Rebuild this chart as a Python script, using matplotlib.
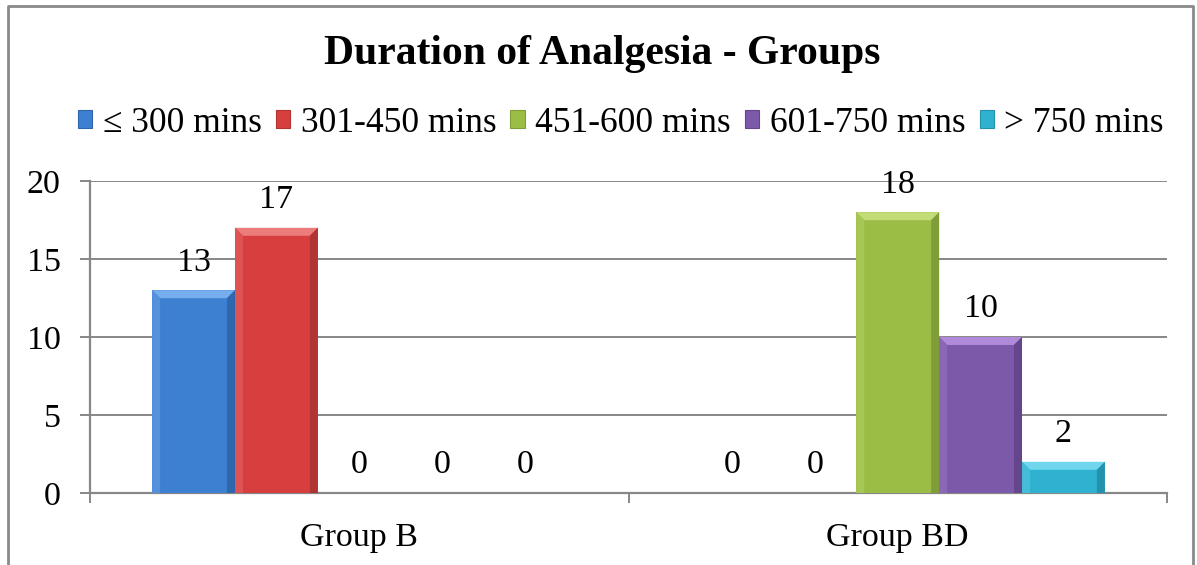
import numpy as np
import matplotlib.pyplot as plt
from matplotlib.patches import Polygon, Patch
from matplotlib.lines import Line2D

plt.rcParams['font.family'] = ['Liberation Serif', 'DejaVu Serif']

# data
groups = ['Group B', 'Group BD']
series = ['\u2264 300 mins', '301-450 mins', '451-600 mins', '601-750 mins', '> 750 mins']
counts = [[13, 0],
          [17, 0],
          [0, 18],
          [0, 10],
          [0, 2]]
colors = ['#3d7fd0', '#d73f3f', '#9bbd45', '#7d5aa9', '#2fb2d0']
tops = ['#76adec', '#ec7b7b', '#c2dc78', '#b08ad8', '#6fd6ee']
lights = ['#5590da', '#de5353', '#a6c655', '#8a68b5', '#45bdd9']
darks = ['#2f67ae', '#b03434', '#7f9d38', '#63468c', '#2592ad']

W, H = 1197, 565
fs = 24.5
fig = plt.figure(figsize=(W/100, H/100), dpi=100)
ax = fig.add_axes([90/W, 1-493/H, (1167-90)/W, (493-181)/H])
ax.set_xlim(-0.5, 1.5)
ax.set_ylim(0, 20)

x = np.arange(len(groups))
bw = 1/6.5
# bevel size in data units
bpx = 8
bx = bpx / ((1167-90)/2.0)
by = bpx / ((493-181)/20.0)

for i, s in enumerate(series):
    pos = x + (i-2)*bw
    bars = ax.bar(pos, counts[i], width=bw, color=colors[i], edgecolor='none', zorder=3)
    for b, v in zip(bars, counts[i]):
        x0, w, h = b.get_x(), b.get_width(), b.get_height()
        x1 = x0 + w
        if h > 0:
            bb = min(by, h/2)
            ax.add_patch(Polygon([(x0, h), (x1, h), (x1-bx, h-bb), (x0+bx, h-bb)],
                                 closed=True, color=tops[i], lw=0, zorder=4))
            ax.add_patch(Polygon([(x0, 0), (x0, h), (x0+bx, h-bb), (x0+bx, 0)],
                                 closed=True, color=lights[i], lw=0, zorder=4))
            ax.add_patch(Polygon([(x1, 0), (x1, h), (x1-bx, h-bb), (x1-bx, 0)],
                                 closed=True, color=darks[i], lw=0, zorder=4))
        ax.annotate(str(v), (x0 + w/2, h), xytext=(0, 20), textcoords='offset points',
                    ha='center', va='center', fontsize=fs, zorder=5)

# axes styling
gridc = '#878787'
ax.yaxis.grid(True, color=gridc, lw=1.4, zorder=0)
ax.set_axisbelow(True)
for sp in ['top', 'right']:
    ax.spines[sp].set_visible(False)
for sp in ['left', 'bottom']:
    ax.spines[sp].set_color(gridc)
    ax.spines[sp].set_linewidth(1.6)
ax.set_yticks([0, 5, 10, 15, 20])
ax.tick_params(axis='y', length=7, width=1.4, color=gridc, pad=14, labelsize=fs)
ax.set_xticks(x)
ax.set_xticklabels(groups)
ax.tick_params(axis='x', which='major', length=0, pad=21, labelsize=fs)
ax.set_xticks([-0.5, 0.5, 1.5], minor=True)
ax.tick_params(axis='x', which='minor', length=7, width=1.4, color=gridc)

fig.text(602/W, 1-54/H, 'Duration of Analgesia - Groups', ha='center', va='center',
         fontsize=30, fontweight='bold')

handles = [Patch(facecolor=colors[i], edgecolor=darks[i], lw=0.8) for i in range(len(series))]
fig.legend(handles, series, loc='center', bbox_to_anchor=(621/W, 1-123/H), ncol=5,
           frameon=False, fontsize=25.5, handlelength=0.4, handleheight=0.4,
           handletextpad=0.3, columnspacing=0.4, borderpad=0)

# chart border
fig.add_artist(Line2D([8/W, 8/W, 1193/W, 1193/W], [0, 1-6/H, 1-6/H, 0],
                      transform=fig.transFigure, color='#8a8a8a', lw=2))

fig.savefig('out.png', dpi=100)
